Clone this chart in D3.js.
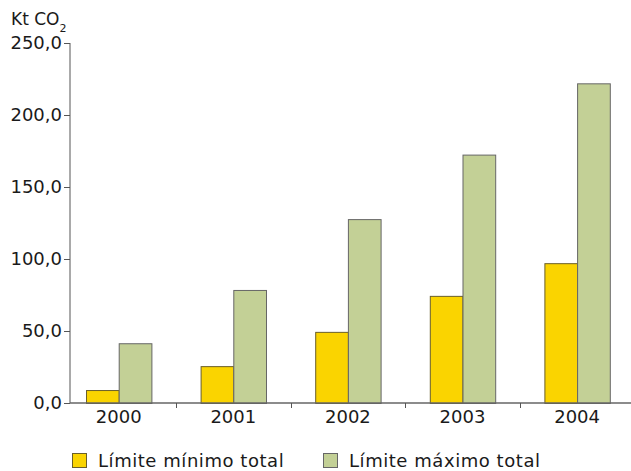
<!DOCTYPE html>
<html>
<head>
<meta charset="utf-8">
<script src="https://cdn.jsdelivr.net/npm/d3@7"></script>
<style>
  body { margin: 0; background: #fff; }
  text { font-family: "DejaVu Sans", Verdana, sans-serif; fill: #1a1a1a; }
</style>
</head>
<body>
<script>
// data
var years = ["2000", "2001", "2002", "2003", "2004"];
var seriesNames = ["Límite mínimo total", "Límite máximo total"];
var minValues = [9.0, 25.6, 49.4, 74.4, 97.1];
var maxValues = [41.5, 78.5, 127.7, 172.5, 222.0];
var yTicks = [0, 50, 100, 150, 200, 250];
var colors = ["#fad400", "#c3d096"];
var strokes = ["#6a5f2a", "#666666"];

// svg container
var width = 631;
var height = 471;

var svg = d3.select("body").append("svg")
    .attr("width", width)
    .attr("height", height);

// scales
var yScale = d3.scaleLinear()
    .domain([0, 250])
    .range([403, 43]);

var xScale = d3.scaleBand()
    .domain(years)
    .range([61.4, 634.4])
    .paddingInner(0.4293)
    .paddingOuter(0.2147);

var subScale = d3.scaleBand()
    .domain([0, 1])
    .range([0, xScale.bandwidth()]);

// y axis
var yAxis = d3.axisLeft(yScale)
    .tickValues(yTicks)
    .tickSize(6)
    .tickPadding(2)
    .tickFormat(d => d3.format(".1f")(d).replace(".", ","));

var yAxisGroup = svg.append("g")
    .attr("transform", "translate(70, 0)")
    .call(yAxis);
yAxisGroup.select(".domain").attr("stroke", "#555").attr("d", "M0," + yScale(250) + "V" + yScale(0));
yAxisGroup.selectAll(".tick line").attr("stroke", "#555");
yAxisGroup.selectAll("text")
    .style("font-size", "18px")
    .attr("fill", "#1a1a1a");

// bars
var rows = years.map((y, i) => ({ year: y, values: [minValues[i], maxValues[i]] }));

var groups = svg.selectAll(".grp")
    .data(rows)
    .enter()
    .append("g")
    .attr("class", "grp")
    .attr("transform", d => `translate(${xScale(d.year)}, 0)`);

groups.selectAll("rect")
    .data(d => d.values)
    .enter()
    .append("rect")
    .attr("x", (d, i) => subScale(i) + 0.5)
    .attr("y", d => yScale(d) + 0.5)
    .attr("width", subScale.bandwidth())
    .attr("height", d => yScale(0) - yScale(d))
    .attr("fill", (d, i) => colors[i])
    .attr("stroke", (d, i) => strokes[i])
    .attr("stroke-width", 1);

// x axis
var xAxisGroup = svg.append("g")
    .attr("transform", `translate(0, ${yScale(0)})`);

xAxisGroup.append("line")
    .attr("x1", 70).attr("x2", width)
    .attr("y1", 0).attr("y2", 0)
    .attr("stroke", "#666")
    .attr("stroke-width", 1.3);

// boundary ticks between year groups
var halfGap = (xScale.step() - xScale.bandwidth()) / 2;
xAxisGroup.selectAll(".xtick")
    .data(years.slice(1))
    .enter()
    .append("line")
    .attr("x1", d => Math.round(xScale(d) - halfGap) + 0.5)
    .attr("x2", d => Math.round(xScale(d) - halfGap) + 0.5)
    .attr("y1", 0).attr("y2", 5)
    .attr("stroke", "#555");

xAxisGroup.selectAll(".xlabel")
    .data(years)
    .enter()
    .append("text")
    .attr("x", d => xScale(d) + xScale.bandwidth() / 2)
    .attr("y", 20)
    .attr("text-anchor", "middle")
    .style("font-size", "18px")
    .text(d => d);

// unit label
var unit = svg.append("text")
    .attr("x", 11)
    .attr("y", 25)
    .style("font-size", "17px")
    .text("Kt CO");
unit.append("tspan")
    .attr("dy", 7)
    .style("font-size", "11px")
    .text("2");

// legend
var legendX = [72, 323];
var legend = svg.selectAll(".legend")
    .data(seriesNames)
    .enter()
    .append("g")
    .attr("class", "legend")
    .attr("transform", (d, i) => `translate(${legendX[i]}, 453)`);

legend.append("rect")
    .attr("x", 0.5).attr("y", 0.5)
    .attr("width", 14).attr("height", 14)
    .attr("fill", (d, i) => colors[i])
    .attr("stroke", (d, i) => strokes[i]);

legend.append("text")
    .attr("x", 26)
    .attr("y", 13.5)
    .style("font-size", "18px")
    .style("letter-spacing", "0.55px")
    .text(d => d);
</script>
</body>
</html>
